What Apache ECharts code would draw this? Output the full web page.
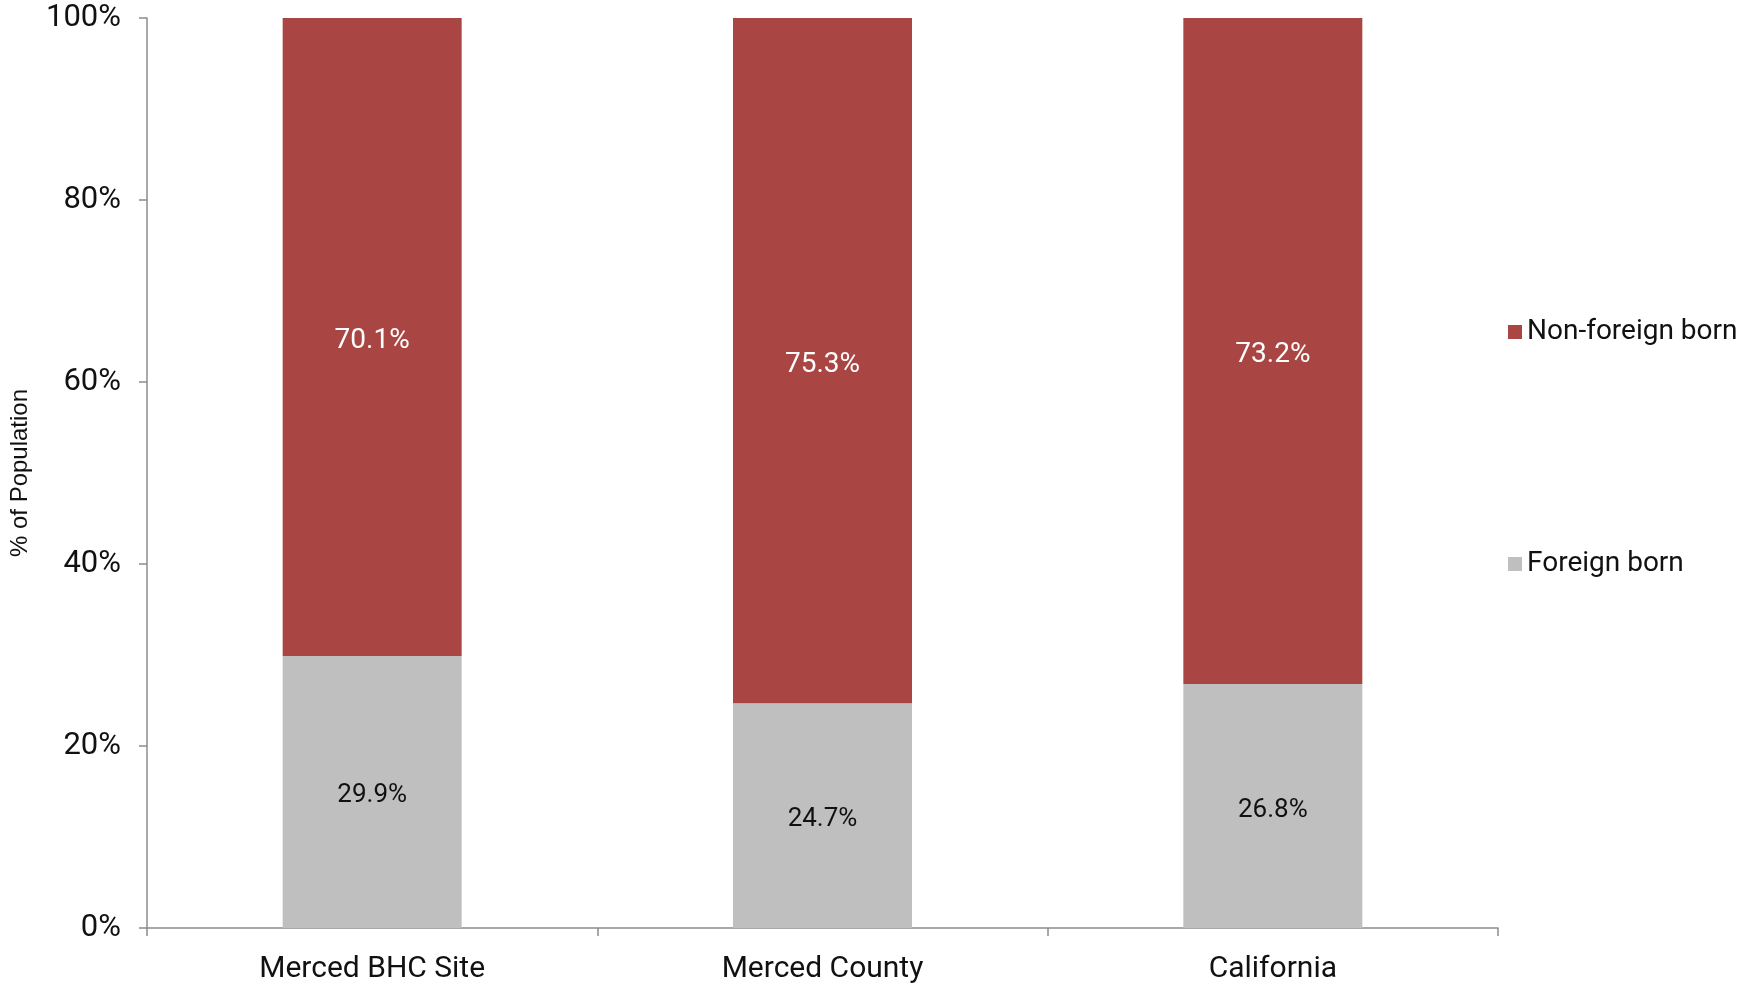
<!DOCTYPE html>
<html>
<head>
<meta charset="utf-8">
<script src="https://cdn.jsdelivr.net/npm/echarts@6/dist/echarts.min.js"></script>
<style>
  html, body { margin: 0; padding: 0; background: #fff; }
  #chart { width: 1737px; height: 983px; }
</style>
</head>
<body>
<div id="chart"></div>
<script>
var places = ['Merced BHC Site', 'Merced County', 'California'];
var foreignBorn = [29.9, 24.7, 26.8];
var nonForeignBorn = [70.1, 75.3, 73.2];
var yTicks = [0, 20, 40, 60, 80, 100];

var font = 'Roboto, sans-serif';
var myChart = echarts.init(document.getElementById('chart'));

var option = {
  animation: false,
  textStyle: { fontFamily: font },
  grid: { left: 147, right: 239, top: 18, bottom: 55, containLabel: false, outerBoundsMode: 'none' },
  legend: {
    orient: 'vertical',
    left: 1503,
    top: 313,
    itemGap: 204,
    itemWidth: 14,
    itemHeight: 14,
    icon: 'rect',
    // non-foreign sits on top in the legend
    data: ['Non-foreign born', 'Foreign born'],
    textStyle: { fontSize: 28, color: '#111', fontFamily: font }
  },
  xAxis: {
    type: 'category',
    data: places,
    axisLine: { lineStyle: { color: '#8c8c8c', width: 1.5 } },
    axisTick: { show: true, length: 8, alignWithLabel: false, lineStyle: { color: '#8c8c8c', width: 1.5 } },
    axisLabel: { fontSize: 30, color: '#111', margin: 26, fontFamily: font }
  },
  yAxis: {
    type: 'value',
    min: 0,
    max: 100,
    interval: 20,
    name: '% of Population',
    nameLocation: 'middle',
    nameGap: 115,
    nameTextStyle: { fontSize: 24, color: '#111', fontFamily: 'Liberation Sans, Arial, sans-serif' },
    splitLine: { show: false },
    axisLine: { show: true, lineStyle: { color: '#8c8c8c', width: 1.5 } },
    axisTick: { show: true, length: 8, lineStyle: { color: '#8c8c8c', width: 1.5 } },
    axisLabel: {
      fontSize: 31, color: '#111', margin: 26, fontFamily: font,
      formatter: function (v) { return yTicks.indexOf(v) >= 0 ? v + '%' : ''; }
    }
  },
  series: [
    {
      name: 'Foreign born',
      type: 'bar',
      stack: 'pop',
      barWidth: 179,
      data: foreignBorn,
      itemStyle: { color: '#bfbfbf' },
      label: {
        show: true, position: 'inside', offset: [0, 4], fontSize: 26, color: '#111', fontFamily: font,
        formatter: function (p) { return p.value.toFixed(1) + '%'; }
      }
    },
    {
      name: 'Non-foreign born',
      type: 'bar',
      stack: 'pop',
      barWidth: 179,
      data: nonForeignBorn,
      itemStyle: { color: '#a94644' },
      label: {
        show: true, position: 'inside', offset: [0, 4], fontSize: 28, color: '#fff', fontFamily: font,
        formatter: function (p) { return p.value.toFixed(1) + '%'; }
      }
    }
  ]
};
myChart.setOption(option);
</script>
</body>
</html>
